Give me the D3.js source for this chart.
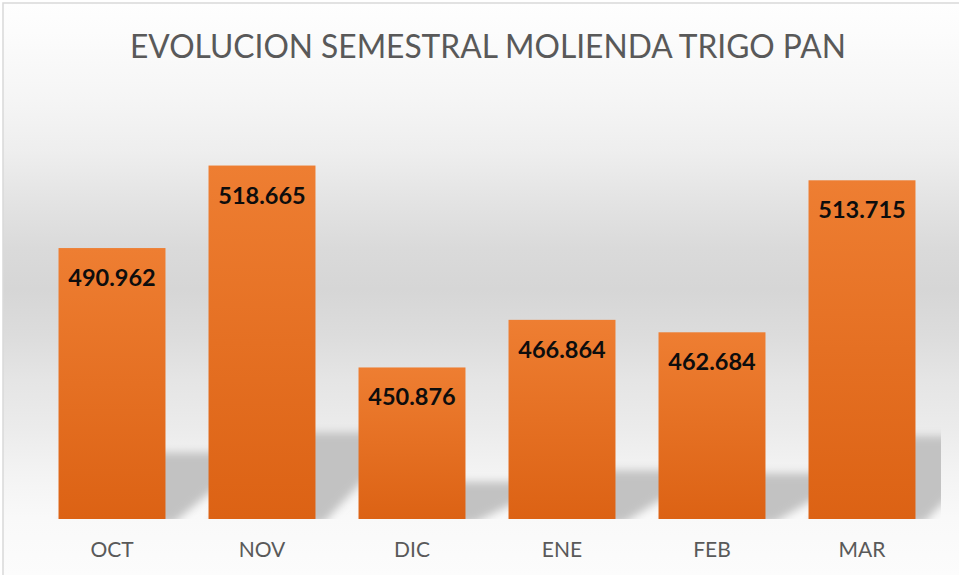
<!DOCTYPE html>
<html>
<head>
<meta charset="utf-8">
<script src="https://cdn.jsdelivr.net/npm/d3@7/dist/d3.min.js"></script>
<style>
  html, body { margin: 0; padding: 0; background: #ffffff; }
  svg { display: block; }
</style>
</head>
<body>
<script>
const categories = ["OCT", "NOV", "DIC", "ENE", "FEB", "MAR"];
const values = [490962, 518665, 450876, 466864, 462684, 513715];
const titleText = "EVOLUCION SEMESTRAL MOLIENDA TRIGO PAN";
const yDomain = [400000, 540000];

const W = 959, H = 575;
const svg = d3.select("body").append("svg").attr("width", W).attr("height", H);
const defs = svg.append("defs");

// background gradient
const bg = defs.append("linearGradient").attr("id", "bgGrad")
  .attr("gradientUnits", "userSpaceOnUse").attr("x1", 0).attr("y1", 3).attr("x2", 0).attr("y2", 575);
[[0, "#fefefe"], [0.05, "#fcfcfc"], [0.17, "#f5f5f5"], [0.26, "#eeeeee"], [0.35, "#e3e3e3"],
 [0.43, "#dadada"], [0.5, "#d6d6d6"], [0.58, "#dcdcdc"], [0.66, "#e5e5e5"], [0.74, "#ebebeb"],
 [0.82, "#f3f3f3"], [0.9, "#f9f9f9"], [1, "#fcfcfc"]]
  .forEach(([o, c]) => bg.append("stop").attr("offset", o).attr("stop-color", c));

// bar gradient
const bgBar = defs.append("linearGradient").attr("id", "barGrad")
  .attr("x1", 0).attr("y1", 0).attr("x2", 0).attr("y2", 1);
bgBar.append("stop").attr("offset", 0).attr("stop-color", "#ee7e32");
bgBar.append("stop").attr("offset", 1).attr("stop-color", "#dc6214");

// shadow blur
defs.append("filter").attr("id", "blur").attr("x", "-30%").attr("y", "-30%").attr("width", "160%").attr("height", "160%")
  .append("feGaussianBlur").attr("stdDeviation", 4);

const x = d3.scaleBand().domain(categories).range([37, 937]).paddingInner(0.287).paddingOuter(0.1435);
const y = d3.scaleLinear().domain(yDomain).range([519, 102]);
const fmt = d3.formatLocale({ decimal: ",", thousands: ".", grouping: [3], currency: ["", ""] }).format(",d");

defs.append("clipPath").attr("id", "plotClip").append("rect")
  .attr("x", 37).attr("y", 80).attr("width", 904).attr("height", 519 - 80);

// chart area
svg.append("rect").attr("x", 3).attr("y", 3).attr("width", 990).attr("height", 600)
  .attr("fill", "url(#bgGrad)").attr("stroke", "#d9d9d9").attr("stroke-width", 1.5);

// title
svg.append("text").attr("x", 488).attr("y", 58).attr("text-anchor", "middle")
  .attr("font-family", "Lato, 'Open Sans', sans-serif").attr("font-size", 32)
  .attr("fill", "#595959").attr("textLength", 716).attr("lengthAdjust", "spacingAndGlyphs")
  .text(titleText);

const data = categories.map((c, i) => ({ c, v: values[i] }));
const base = y(yDomain[0]);

// perspective shadows
svg.append("g").attr("clip-path", "url(#plotClip)")
  .selectAll("polygon").data(data).enter().append("polygon")
  .attr("points", d => {
    const x0 = x(d.c), x1 = x(d.c) + x.bandwidth();
    const h = 0.245 * (base - y(d.v));
    const s = 84;
    return [[x0, base + 4], [x1 + 8, base + 4], [x1 + 8 + s, base - h], [x0 + s, base - h]].map(p => p.join(",")).join(" ");
  })
  .attr("fill", "#c2c2c2").attr("filter", "url(#blur)");

// bars
svg.append("g").selectAll("rect").data(data).enter().append("rect")
  .attr("x", d => x(d.c)).attr("y", d => y(d.v))
  .attr("width", x.bandwidth()).attr("height", d => base - y(d.v))
  .attr("fill", "url(#barGrad)");

// value labels
svg.append("g").selectAll("text").data(data).enter().append("text")
  .attr("x", d => x(d.c) + x.bandwidth() / 2).attr("y", d => y(d.v) + 38)
  .attr("text-anchor", "middle").attr("font-family", "Lato, 'Open Sans', sans-serif")
  .attr("font-weight", "bold").attr("font-size", 23.5).attr("fill", "#0d0d0d")
  .text(d => fmt(d.v));

// category axis labels
const xAxis = d3.axisBottom(x).tickSize(0).tickPadding(0);
const ax = svg.append("g").attr("transform", "translate(0,540)").call(xAxis);
ax.select(".domain").remove();
ax.selectAll("text").attr("font-family", "Lato, 'Open Sans', sans-serif").attr("font-size", 21)
  .attr("fill", "#595959").attr("dy", null).attr("y", 16.7);
</script>
</body>
</html>
